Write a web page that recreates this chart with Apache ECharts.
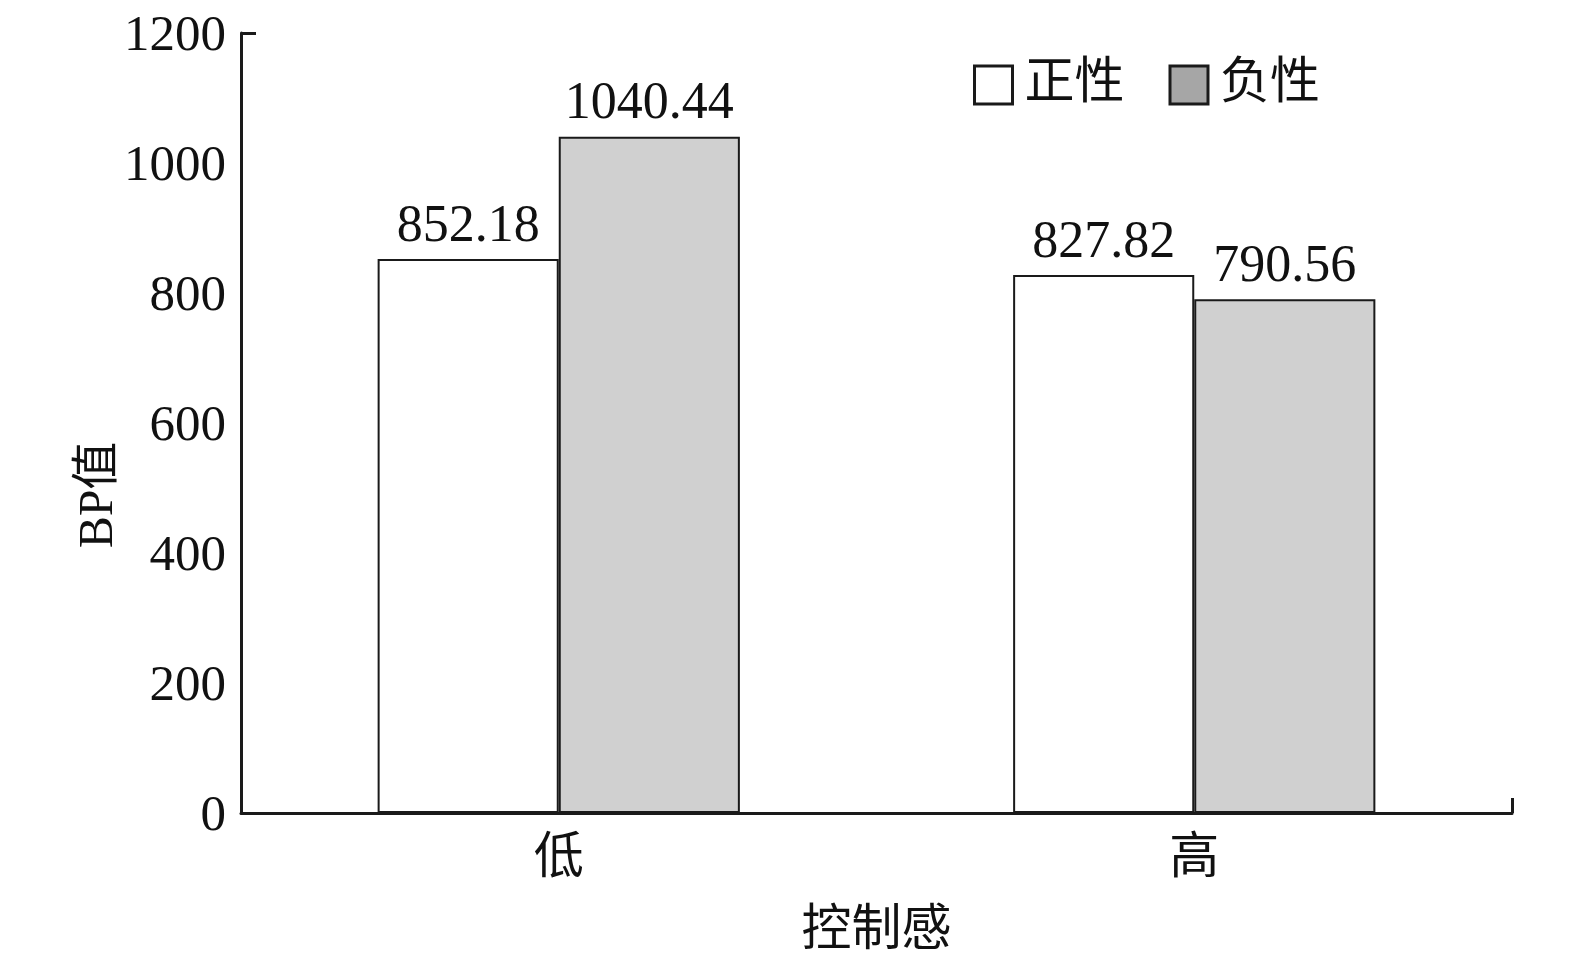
<!DOCTYPE html>
<html>
<head>
<meta charset="utf-8">
<script src="https://cdn.jsdelivr.net/npm/echarts@6/dist/echarts.min.js"></script>
<style>html,body{margin:0;padding:0;background:#fff}#c{width:1575px;height:968px}</style>
</head>
<body>
<div id="c"></div>
<script>
const categories = ['低', '高'];
const seriesNames = ['正性', '负性'];
const positiveValues = [852.18, 827.82];
const negativeValues = [1040.44, 790.56];
const yTicks = [0, 200, 400, 600, 800, 1000, 1200];

const serif = "'Liberation Serif', 'Times New Roman', 'Noto Sans CJK SC', serif";
const chart = echarts.init(document.getElementById('c'));
chart.setOption({
  backgroundColor: '#ffffff',
  animation: false,
  grid: { left: 241, right: 63, top: 33, bottom: 155, containLabel: false },
  legend: {
    left: 968, top: 55,
    itemWidth: 38, itemHeight: 38, itemGap: 44,
    textStyle: { fontSize: 50, color: '#111', fontFamily: serif, padding: [0, 0, 0, 7] },
    data: [
      { name: seriesNames[0], icon: 'rect', itemStyle: { color: '#ffffff', borderColor: '#1a1a1a', borderWidth: 3 } },
      { name: seriesNames[1], icon: 'rect', itemStyle: { color: '#a6a6a6', borderColor: '#1a1a1a', borderWidth: 3 } }
    ]
  },
  xAxis: [{
    type: 'category',
    data: categories,
    name: '控制感',
    nameLocation: 'middle',
    nameGap: 94,
    nameMoveOverlap: false,
    nameTextStyle: { fontSize: 50, color: '#111', fontFamily: serif },
    axisLine: { lineStyle: { color: '#1a1a1a', width: 3 } },
    axisTick: { show: true, inside: true, length: 15, interval: function (i) { return i === 0; }, lineStyle: { color: '#1a1a1a', width: 3 } },
    axisLabel: { fontSize: 50, color: '#111', fontFamily: serif, margin: 22 }
  }],
  yAxis: [{
    type: 'value',
    min: yTicks[0],
    max: yTicks[yTicks.length - 1],
    interval: yTicks[1] - yTicks[0],
    name: 'BP值',
    nameLocation: 'middle',
    nameGap: 118,
    nameMoveOverlap: false,
    nameTextStyle: { fontSize: 48, color: '#111', fontFamily: serif, padding: [0, 144, 0, 0] },
    axisLine: { show: true, lineStyle: { color: '#1a1a1a', width: 3 } },
    axisTick: { show: false },
    splitLine: { show: false },
    axisLabel: { fontSize: 51, color: '#111', fontFamily: serif, margin: 15, lineHeight: 58, verticalAlign: 'middle', formatter: v => '{a|' + v + '}' , rich: { a: { fontSize: 51, fontFamily: serif, color: '#111', padding: [7, 0, 0, 0] } } }
  }, {
    type: 'category',
    data: [''],
    position: 'left',
    axisLine: { show: false },
    axisLabel: { show: false },
    axisTick: { show: true, inside: true, length: 15, lineStyle: { color: '#1a1a1a', width: 3 } },
    splitLine: { show: false }
  }],
  series: [{
    name: seriesNames[0],
    type: 'bar',
    data: positiveValues,
    barGap: '0%',
    barCategoryGap: '43%',
    itemStyle: { color: '#ffffff', borderColor: '#1a1a1a', borderWidth: 2 },
    label: { show: true, position: 'top', distance: 6, fontSize: 52, color: '#111', fontFamily: serif, formatter: p => p.value.toFixed(2) }
  }, {
    name: seriesNames[1],
    type: 'bar',
    data: negativeValues,
    barGap: '0%',
    barCategoryGap: '43%',
    itemStyle: { color: '#d0d0d0', borderColor: '#1a1a1a', borderWidth: 2 },
    label: { show: true, position: 'top', distance: 6, fontSize: 52, color: '#111', fontFamily: serif, formatter: p => p.value.toFixed(2) }
  }]
});
</script>
</body>
</html>
